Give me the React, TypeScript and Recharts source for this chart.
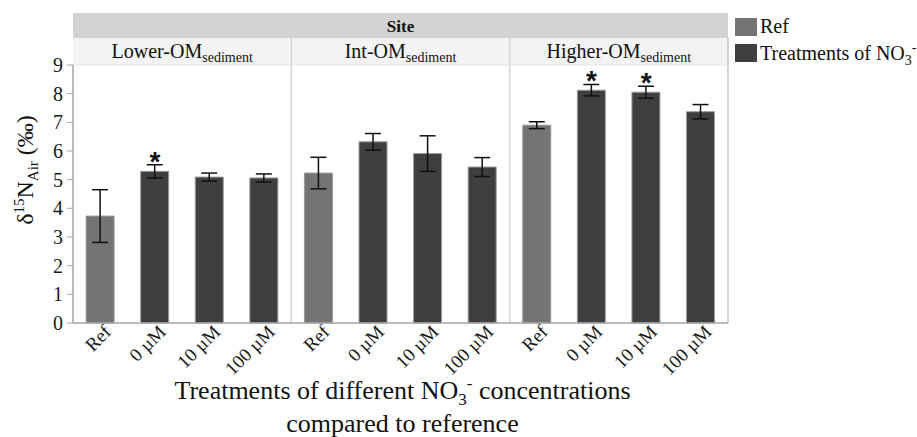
import React from "react";
import { Bar, Cell, ComposedChart, Customized, ErrorBar, Scatter, XAxis, YAxis } from "recharts";

// categories and values
const sites = ["Lower", "Int", "Higher"];
const tickLabels = ["Ref", "0 µM", "10 µM", "100 µM"];
const lowerMeans = [3.73, 5.29, 5.09, 5.06];
const lowerErr = [0.92, 0.23, 0.14, 0.14];
const lowerSig = [false, true, false, false];
const intMeans = [5.23, 6.32, 5.91, 5.44];
const intErr = [0.55, 0.29, 0.62, 0.33];
const intSig = [false, false, false, false];
const higherMeans = [6.9, 8.12, 8.05, 7.37];
const higherErr = [0.12, 0.2, 0.21, 0.25];
const higherSig = [false, true, true, false];
const yTicks = [0, 1, 2, 3, 4, 5, 6, 7, 8, 9];

const refColor = "#747474";
const treatColor = "#3f3f3f";
const font = '"Liberation Serif", "Times New Roman", serif';

const W = 917;
const H = 437;
const plot = { left: 73, top: 65, right: 728, bottom: 323 };

const build = (site: string, means: number[], errs: number[], sig: boolean[]) =>
    means.map((v, i) => ({
        id: `${site}-${i}`,
        label: tickLabels[i],
        value: v,
        err: errs[i],
        star: sig[i] ? v + errs[i] : null,
        isRef: i === 0,
    }));

const data = [
    ...build(sites[0], lowerMeans, lowerErr, lowerSig),
    ...build(sites[1], intMeans, intErr, intSig),
    ...build(sites[2], higherMeans, higherErr, higherSig),
];

const XTick = ({ x, y, payload }: any) => {
    const label = data[payload.index] ? data[payload.index].label : payload.value;
    return (
        <g transform={`translate(${x + 12},${y + 10})`}>
            <text transform="rotate(-45)" textAnchor="end" fontSize={19} fontFamily={font} fill="#1a1a1a">
                {label}
            </text>
        </g>
    );
};

const Star = ({ cx, cy }: any) => {
    if (cx == null || cy == null) return <g />;
    return (
        <text x={cx} y={cy + 6} textAnchor="middle" fontSize={28} fontWeight="bold"
              fontFamily='"Liberation Sans", Arial, sans-serif' fill="#111">*</text>
    );
};

const facetNames = ["Lower-OM", "Int-OM", "Higher-OM"];

// strips, separators, titles and legend
const Decor = () => {
    const pw = (plot.right - plot.left) / 3;
    const siteTop = 13;
    const facetTop = 38;
    return (
        <g fontFamily={font}>
            <rect x={plot.left} y={siteTop} width={plot.right - plot.left} height={facetTop - siteTop} fill="#d3d3d3" />
            <text x={(plot.left + plot.right) / 2} y={32} textAnchor="middle" fontSize={17} fontWeight="bold" fill="#111">Site</text>
            <rect x={plot.left} y={facetTop} width={plot.right - plot.left} height={plot.top - facetTop} fill="#f3f3f3" />
            {facetNames.map((n, i) => (
                <text key={n} x={plot.left + pw * (i + 0.5)} y={58} textAnchor="middle" fontSize={20} fill="#111">
                    {n}
                    <tspan fontSize={14} dy={4}>sediment</tspan>
                </text>
            ))}
            {[1, 2].map((i) => (
                <line key={i} x1={plot.left + pw * i} x2={plot.left + pw * i} y1={facetTop} y2={plot.bottom}
                      stroke="#d4d4d4" strokeWidth={1.5} />
            ))}
            <line x1={plot.right} x2={plot.right} y1={facetTop} y2={plot.bottom} stroke="#c4c4c4" strokeWidth={1.5} />
            <line x1={plot.left} x2={plot.right} y1={plot.top} y2={plot.top} stroke="#e6e6e6" strokeWidth={1} />

            {/* y title */}
            <text transform="translate(33,170) rotate(-90)" textAnchor="middle" fontSize={24} fill="#111">
                δ<tspan fontSize={15} dy={-9}>15</tspan>
                <tspan dy={9}>N</tspan>
                <tspan fontSize={15} dy={5}>Air</tspan>
                <tspan dy={-5}> (‰)</tspan>
            </text>

            {/* x title */}
            <text x={(plot.left + plot.right) / 2 + 2} y={399} textAnchor="middle" fontSize={26} fill="#111">
                Treatments of different NO<tspan fontSize={17} dy={6}>3</tspan>
                <tspan fontSize={17} dy={-16}>-</tspan>
                <tspan dy={10}> concentrations</tspan>
            </text>
            <text x={(plot.left + plot.right) / 2 + 2} y={432} textAnchor="middle" fontSize={26} fill="#111">
                compared to reference
            </text>

            {/* legend */}
            <rect x={735} y={18} width={22} height={18} fill={refColor} />
            <text x={760} y={33} fontSize={20} fill="#111">Ref</text>
            <rect x={735} y={44} width={22} height={18} fill={treatColor} />
            <text x={760} y={60} fontSize={20} fill="#111">
                Treatments of NO<tspan fontSize={14} dy={5}>3</tspan>
                <tspan fontSize={14} dy={-13}>-</tspan>
            </text>
        </g>
    );
};

const App = () => {
    return (
        <div style={{ position: "absolute", left: 0, top: 0, fontFamily: font }}>
            <ComposedChart
                width={W}
                height={H}
                data={data}
                margin={{ top: plot.top, right: W - plot.right, bottom: 14, left: 0 }}
                barCategoryGap="24%"
            >
                <Customized component={Decor} />
                <XAxis
                    dataKey="id"
                    type="category"
                    height={H - plot.bottom - 14}
                    tick={<XTick />}
                    tickLine={false}
                    tickSize={0}
                    tickMargin={0}
                    interval={0}
                    axisLine={{ stroke: "#a6a6a6", strokeWidth: 1.5 }}
                />
                <YAxis
                    type="number"
                    domain={[0, 9]}
                    ticks={yTicks}
                    width={plot.left}
                    interval={0}
                    tickSize={6}
                    tickMargin={4}
                    tick={{ fontSize: 20, fontFamily: font, fill: "#1a1a1a" }}
                    tickLine={{ stroke: "#a6a6a6" }}
                    axisLine={{ stroke: "#a6a6a6", strokeWidth: 1.5 }}
                />
                <Bar dataKey="value" isAnimationActive={false} stroke="#9a9a9a" strokeWidth={1}>
                    {data.map((d, i) => (
                        <Cell key={`c-${i}`} fill={d.isRef ? refColor : treatColor} />
                    ))}
                    <ErrorBar dataKey="err" width={8} stroke="#111" strokeWidth={1.5} />
                </Bar>
                <Scatter dataKey="star" isAnimationActive={false} shape={<Star />} />
            </ComposedChart>
        </div>
    );
};

export default App;
